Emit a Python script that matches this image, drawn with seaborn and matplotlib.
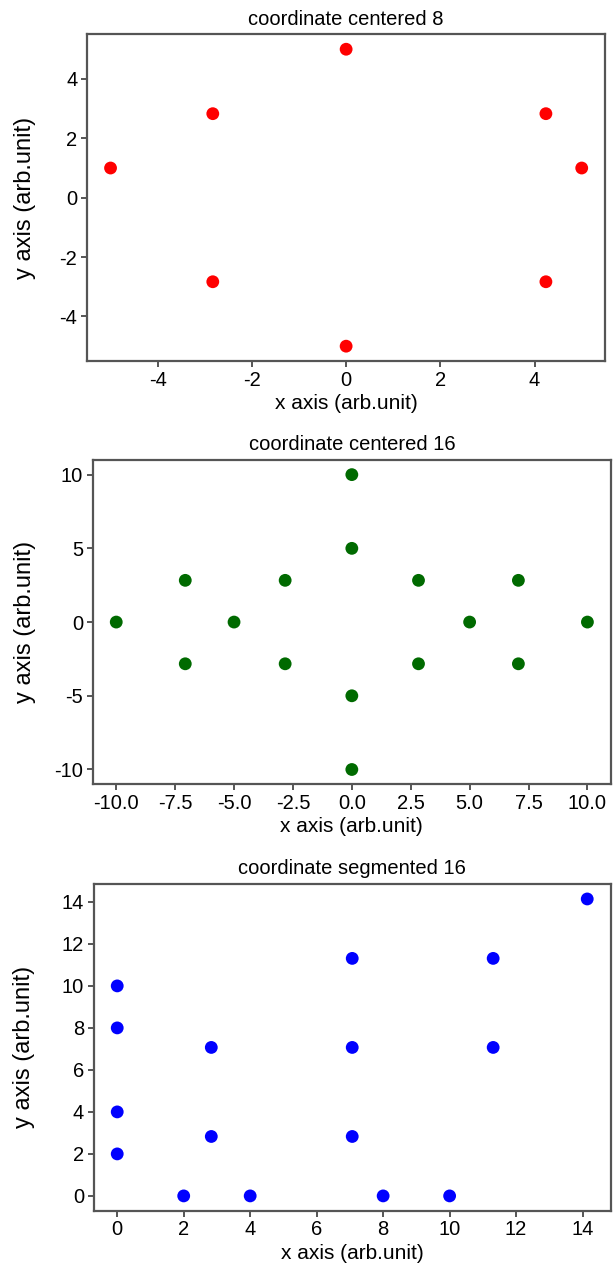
import matplotlib
matplotlib.use("Agg")
import matplotlib.pyplot as plt
import seaborn as sns
import pandas as pd

# coordinates of the three sampling layouts
centered8_x = [0.0, -2.83, 4.24, 5.0, -5.0, -2.83, 4.24, 0.0]
centered8_y = [5.0, 2.83, 2.83, 1.0, 1.0, -2.83, -2.83, -5.0]

centered16_x = [0.0, 0.0, -7.07, -2.83, 2.83, 7.07, -10.0, -5.0,
                5.0, 10.0, -7.07, -2.83, 2.83, 7.07, 0.0, 0.0]
centered16_y = [10.0, 5.0, 2.83, 2.83, 2.83, 2.83, 0.0, 0.0,
                0.0, 0.0, -2.83, -2.83, -2.83, -2.83, -5.0, -10.0]

segmented16_x = [14.14, 7.07, 11.31, 0.0, 0.0, 2.83, 7.07, 11.31,
                 0.0, 0.0, 2.83, 7.07, 2.0, 4.0, 8.0, 10.0]
segmented16_y = [14.14, 11.31, 11.31, 10.0, 8.0, 7.07, 7.07, 7.07,
                 4.0, 2.0, 2.83, 2.83, 0.0, 0.0, 0.0, 0.0]

titles = ["coordinate centered 8", "coordinate centered 16", "coordinate segmented 16"]
colors = ["#ff0000", "#006a00", "#0000ff"]
x_ticks = [[-4, -2, 0, 2, 4],
           [-10, -7.5, -5, -2.5, 0, 2.5, 5, 7.5, 10],
           [0, 2, 4, 6, 8, 10, 12, 14]]
x_ticklabels = [["-4", "-2", "0", "2", "4"],
                ["-10.0", "-7.5", "-5.0", "-2.5", "0.0", "2.5", "5.0", "7.5", "10.0"],
                ["0", "2", "4", "6", "8", "10", "12", "14"]]
y_ticks = [[-4, -2, 0, 2, 4],
           [-10, -5, 0, 5, 10],
           [0, 2, 4, 6, 8, 10, 12, 14]]

sns.set_style("white")
plt.rcParams["font.family"] = ["Liberation Sans", "DejaVu Sans"]
plt.rcParams["axes.unicode_minus"] = False
plt.rcParams["text.color"] = "black"
plt.rcParams["axes.labelcolor"] = "black"
plt.rcParams["xtick.labelcolor"] = "black"
plt.rcParams["ytick.labelcolor"] = "black"

fig = plt.figure(figsize=(6.13, 12.69), dpi=100)
positions = [
    [0.1419, 0.7155, 0.8455, 0.2574],
    [0.1512, 0.3820, 0.8455, 0.2556],
    [0.1529, 0.0459, 0.8434, 0.2574],
]
ylabel_x = [-0.099, -0.110, -0.113]
datasets = [
    (centered8_x, centered8_y),
    (centered16_x, centered16_y),
    (segmented16_x, segmented16_y),
]

for i, (xs, ys) in enumerate(datasets):
    ax = fig.add_axes(positions[i])
    df = pd.DataFrame({"x": xs, "y": ys})
    sns.scatterplot(data=df, x="x", y="y", ax=ax, color=colors[i],
                    s=85, edgecolor="none", linewidth=0)
    ax.set_title(titles[i], fontsize=14.5, pad=7)
    ax.set_xlabel("x axis (arb.unit)", fontsize=15, labelpad=3)
    ax.set_ylabel("y axis (arb.unit)", fontsize=17)
    ax.yaxis.set_label_coords(ylabel_x[i], 0.5)
    ax.set_xticks(x_ticks[i])
    ax.set_xticklabels(x_ticklabels[i])
    ax.set_yticks(y_ticks[i])
    ax.tick_params(axis="both", labelsize=14.5, length=4, width=1.4,
                   color="#555555", bottom=True, left=True, pad=3)
    for sp in ax.spines.values():
        sp.set_color("#555555")
        sp.set_linewidth(1.6)

fig.savefig("out.png", dpi=100)
